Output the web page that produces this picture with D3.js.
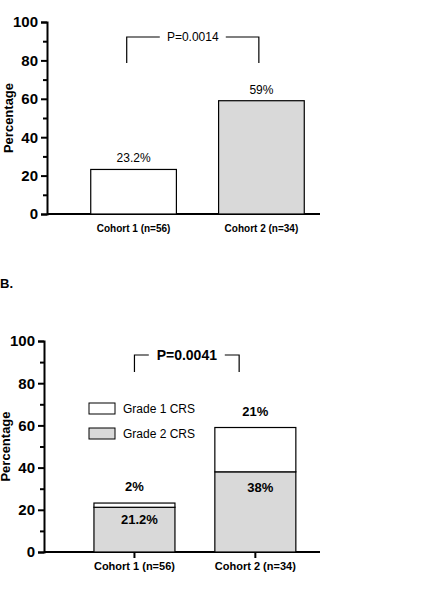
<!DOCTYPE html>
<html>
<head>
<meta charset="utf-8">
<script src="https://cdn.jsdelivr.net/npm/d3@7"></script>
<style>
  body { margin: 0; background: #fff; font-family: "Liberation Sans", Arial, sans-serif; }
  svg text { font-family: "Liberation Sans", Arial, sans-serif; }
</style>
</head>
<body>
<svg id="chart" width="428" height="590"></svg>
<script>
const cohorts = ['Cohort 1 (n=56)', 'Cohort 2 (n=34)']
const totalPct = [23.2, 59]
const totalLabels = ['23.2%', '59%']
const grade2 = [21.2, 38]
const grade1 = [2, 21]
const grade2Labels = ['21.2%', '38%']
const grade1Labels = ['2%', '21%']
const yTicks = [0, 20, 40, 60, 80, 100]
const yMinor = [10, 30, 50, 70, 90]
const legendNames = ['Grade 1 CRS', 'Grade 2 CRS']
const legendFills = ['#ffffff', '#d9d9d9']

const svg = d3.select('#chart')

function drawAxes(g, x0, x1, yTop, yBot, showXTicks, xScale) {
    const y = d3.scaleLinear().domain([0, 100]).range([yBot, yTop])
    const yAxis = d3.axisLeft(y).tickValues(yTicks).tickSize(6).tickPadding(3)
    const ax = g.append('g').attr('transform', `translate(${x0},0)`).call(yAxis)
    ax.select('.domain').attr('stroke-width', 2)
    ax.selectAll('.tick line').attr('stroke-width', 2)
    ax.selectAll('.tick text').attr('font-size', 15).attr('font-weight', 'bold')
    const minor = d3.axisLeft(y).tickValues(yMinor).tickSize(4).tickFormat('')
    const mx = g.append('g').attr('transform', `translate(${x0},0)`).call(minor)
    mx.select('.domain').remove()
    mx.selectAll('.tick line').attr('stroke-width', 2)
    g.append('line').attr('x1', x0).attr('x2', x1).attr('y1', yBot).attr('y2', yBot)
        .attr('stroke', '#000').attr('stroke-width', 2)
    if (showXTicks) {
        cohorts.forEach(c => {
            const cx = xScale(c) + xScale.bandwidth() / 2
            g.append('line').attr('x1', cx).attr('x2', cx).attr('y1', yBot).attr('y2', yBot + 6)
                .attr('stroke', '#000').attr('stroke-width', 2)
        })
    }
    cohorts.forEach(c => {
        g.append('text').attr('x', xScale(c) + xScale.bandwidth() / 2).attr('y', yBot + 18)
            .attr('text-anchor', 'middle').attr('font-size', showXTicks ? 11 : 10)
            .attr('font-weight', 'bold').text(c)
    })
    g.append('text')
        .attr('transform', `translate(${x0 - 34},${(yTop + yBot) / 2}) rotate(-90)`)
        .attr('text-anchor', 'middle').attr('font-size', 13).attr('font-weight', 'bold')
        .text('Percentage')
    return y
}

function bracket(g, xa, xb, yTopPx, yLowPx, label, size) {
    const mid = (xa + xb) / 2
    const half = size * 2.5
    g.append('path')
        .attr('d', `M${xa},${yLowPx}V${yTopPx}H${mid - half - 3}M${mid + half + 3},${yTopPx}H${xb}V${yLowPx}`)
        .attr('fill', 'none').attr('stroke', '#000').attr('stroke-width', 1.2)
    g.append('text').attr('x', mid).attr('y', yTopPx + size * 0.36).attr('text-anchor', 'middle')
        .attr('font-size', size).attr('font-weight', size > 12 ? 'bold' : 'normal').text(label)
}

// Panel A
const gA = svg.append('g')
const xA = d3.scaleBand().domain(cohorts).range([69, 326]).paddingInner(0.33).paddingOuter(0.17)
const yA = drawAxes(gA, 47, 320, 22, 214, false, xA)
gA.selectAll('rect.bar').data(cohorts).enter().append('rect')
    .attr('x', d => xA(d)).attr('width', xA.bandwidth())
    .attr('y', (d, i) => yA(totalPct[i])).attr('height', (d, i) => yA(0) - yA(totalPct[i]))
    .attr('fill', (d, i) => i === 0 ? '#ffffff' : '#d9d9d9').attr('stroke', '#000').attr('stroke-width', 1.2)
gA.selectAll('text.lab').data(cohorts).enter().append('text')
    .attr('x', d => xA(d) + xA.bandwidth() / 2).attr('y', (d, i) => yA(totalPct[i]) - 7)
    .attr('text-anchor', 'middle').attr('font-size', 12).text((d, i) => totalLabels[i])
bracket(gA, xA(cohorts[0]) + xA.bandwidth() * 0.42, xA(cohorts[1]) + xA.bandwidth() * 0.47, 37, 63, 'P=0.0014', 12)

// B label
svg.append('text').attr('x', 0).attr('y', 288).attr('font-size', 13).attr('font-weight', 'bold')
    .attr('font-family', 'Liberation Serif').text('B.')

// Panel B
const gB = svg.append('g')
const xB = d3.scaleBand().domain(cohorts).range([73.4, 316.4]).paddingInner(0.33).paddingOuter(0.17)
const yB = drawAxes(gB, 44, 320, 341, 552, true, xB)
gB.selectAll('rect.g2').data(cohorts).enter().append('rect')
    .attr('x', d => xB(d)).attr('width', xB.bandwidth())
    .attr('y', (d, i) => yB(grade2[i])).attr('height', (d, i) => yB(0) - yB(grade2[i]))
    .attr('fill', '#d9d9d9').attr('stroke', '#000').attr('stroke-width', 1.2)
gB.selectAll('rect.g1').data(cohorts).enter().append('rect')
    .attr('x', d => xB(d)).attr('width', xB.bandwidth())
    .attr('y', (d, i) => yB(grade2[i] + grade1[i])).attr('height', (d, i) => yB(grade2[i]) - yB(grade2[i] + grade1[i]))
    .attr('fill', '#ffffff').attr('stroke', '#000').attr('stroke-width', 1.2)
gB.selectAll('text.l1').data(cohorts).enter().append('text')
    .attr('x', d => xB(d) + xB.bandwidth() / 2).attr('y', (d, i) => yB(grade2[i] + grade1[i]) - 12)
    .attr('text-anchor', 'middle').attr('font-size', 13).attr('font-weight', 'bold').text((d, i) => grade1Labels[i])
gB.selectAll('text.l2').data(cohorts).enter().append('text')
    .attr('x', d => xB(d) + xB.bandwidth() / 2 + 5).attr('y', (d, i) => yB(grade2[i]) + (i === 0 ? 17 : 20))
    .attr('text-anchor', 'middle').attr('font-size', 13).attr('font-weight', 'bold').text((d, i) => grade2Labels[i])
bracket(gB, xB(cohorts[0]) + xB.bandwidth() / 2, xB(cohorts[1]) + xB.bandwidth() * 0.3, 355, 372, 'P=0.0041', 14)

legendNames.forEach((n, i) => {
    const ly = 403 + i * 25
    gB.append('rect').attr('x', 89).attr('y', ly).attr('width', 26).attr('height', 11)
        .attr('fill', legendFills[i]).attr('stroke', '#000').attr('stroke-width', 1)
    gB.append('text').attr('x', 123).attr('y', ly + 10).attr('font-size', 12).text(n)
})
</script>
</body>
</html>
